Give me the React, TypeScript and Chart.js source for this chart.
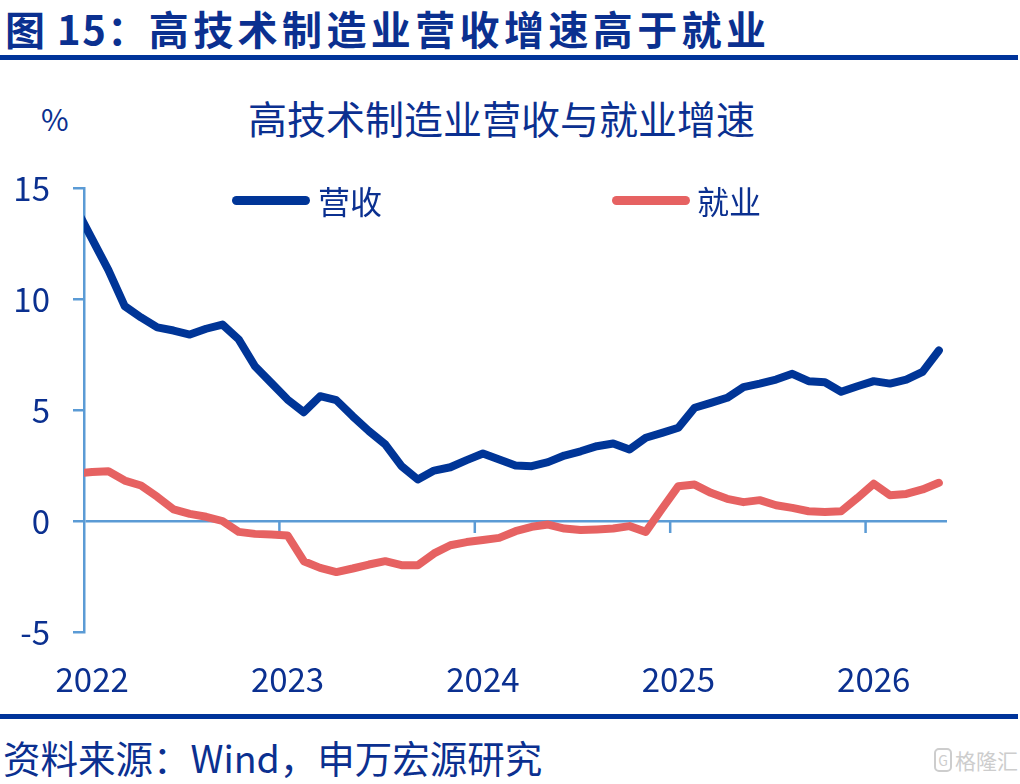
import React, { useEffect, useRef } from "react";
import { Chart, registerables } from "chart.js";

Chart.register(...registerables);

// Monthly observations (plotted mid-month)
const months = [
  "2021-12",
  "2022-01", "2022-02", "2022-03", "2022-04", "2022-05", "2022-06", "2022-07", "2022-08", "2022-09", "2022-10", "2022-11", "2022-12",
  "2023-01", "2023-02", "2023-03", "2023-04", "2023-05", "2023-06", "2023-07", "2023-08", "2023-09", "2023-10", "2023-11", "2023-12",
  "2024-01", "2024-02", "2024-03", "2024-04", "2024-05", "2024-06", "2024-07", "2024-08", "2024-09", "2024-10", "2024-11", "2024-12",
  "2025-01", "2025-02", "2025-03", "2025-04", "2025-05", "2025-06", "2025-07", "2025-08", "2025-09", "2025-10", "2025-11", "2025-12",
  "2026-01", "2026-02", "2026-03", "2026-04", "2026-05",
];

// 营收 (%)
const revenue = [
  14.1,
  12.7, 11.3, 9.68, 9.17, 8.72, 8.58, 8.4, 8.66, 8.85, 8.18, 6.97, 6.22,
  5.47, 4.9, 5.62, 5.44, 4.72, 4.05, 3.45, 2.47, 1.87, 2.27, 2.42, 2.74,
  3.04, 2.77, 2.5, 2.47, 2.65, 2.95, 3.14, 3.37, 3.49, 3.22, 3.75, 3.97,
  4.2, 5.1, 5.32, 5.55, 6.03, 6.19, 6.37, 6.63, 6.3, 6.25, 5.82, 6.07,
  6.3, 6.19, 6.37, 6.72, 7.68,
];

// 就业 (%)
const employment = [
  2.13,
  2.21, 2.24, 1.82, 1.6, 1.09, 0.52, 0.32, 0.19, 0.0, -0.49, -0.58, -0.61,
  -0.65, -1.81, -2.11, -2.3, -2.14, -1.96, -1.81, -1.99, -1.99, -1.46, -1.09, -0.95,
  -0.86, -0.76, -0.46, -0.26, -0.16, -0.34, -0.41, -0.38, -0.34, -0.23, -0.49, 0.55,
  1.57, 1.64, 1.27, 1.0, 0.85, 0.94, 0.71, 0.59, 0.44, 0.41, 0.44, 1.04,
  1.68, 1.16, 1.22, 1.42, 1.72,
];

const yearLabels = ["2022", "2023", "2024", "2025", "2026"];
const seriesNames = ["营收", "就业"];
const yMin = -5;
const yMax = 15;
const yStep = 5;

const FONT = "'Noto Sans CJK SC', 'Noto Sans', sans-serif";
const NAVY = "#0b3090";
const RULE = "#00349a";
const BLUE = "#003597";
const RED = "#e66262";
const AXIS = "#5b9bd5";

const firstYear = parseInt(yearLabels[0], 10);
const monthPos = (m: string) => {
  const [yy, mm] = m.split("-").map((s) => parseInt(s, 10));
  return (yy - firstYear) * 12 + (mm - 1) + 0.5;
};

const yearTickPlugin = {
  id: "yearTicks",
  beforeDatasetsDraw(chart: any) {
    const { ctx, scales } = chart;
    const xs = scales.x;
    const ys = scales.y;
    const y0 = ys.getPixelForValue(0);
    ctx.save();
    ctx.strokeStyle = AXIS;
    ctx.lineWidth = 2.5;
    yearLabels.forEach((_, i) => {
      if (i === 0) return;
      const px = xs.getPixelForValue(i * 12);
      ctx.beginPath();
      ctx.moveTo(px, y0);
      ctx.lineTo(px, y0 + 12);
      ctx.stroke();
    });
    ctx.restore();
  },
};

export default function App() {
  const ref = useRef<HTMLCanvasElement>(null);

  useEffect(() => {
    if (!ref.current) return;
    const mk = (vals: number[]) => months.map((m, i) => ({ x: monthPos(m), y: vals[i] }));
    const chart = new Chart(ref.current, {
      type: "line",
      data: {
        datasets: [
          {
            label: seriesNames[0],
            data: mk(revenue),
            borderColor: BLUE,
            backgroundColor: BLUE,
            borderWidth: 8,
            pointRadius: 0,
            tension: 0,
            borderCapStyle: "round",
            borderJoinStyle: "round",
            clip: { left: 0, top: 20, right: 20, bottom: 20 } as any,
          },
          {
            label: seriesNames[1],
            data: mk(employment),
            borderColor: RED,
            backgroundColor: RED,
            borderWidth: 8,
            pointRadius: 0,
            tension: 0,
            borderCapStyle: "round",
            borderJoinStyle: "round",
            clip: { left: 0, top: 20, right: 20, bottom: 20 } as any,
          },
        ],
      },
      options: {
        responsive: false,
        animation: false,
        devicePixelRatio: 1,
        layout: { padding: { top: 48, right: 73, left: 0, bottom: 0 } },
        plugins: {
          legend: { display: false },
          title: { display: false },
          tooltip: { enabled: false },
        },
        scales: {
          x: {
            type: "linear",
            min: 0,
            max: 53,
            border: { display: false },
            grid: { display: false, drawTicks: false },
            afterFit: (s: any) => {
              s.height = 78;
            },
            afterBuildTicks: (s: any) => {
              s.ticks = yearLabels.map((_, i) => ({ value: i * 12 + 0.5 }));
            },
            ticks: {
              autoSkip: false,
              maxRotation: 0,
              padding: 28,
              color: NAVY,
              font: { family: FONT, size: 33 },
              callback: (_v: any, i: number) => yearLabels[i],
            },
          },
          y: {
            min: yMin,
            max: yMax,
            afterFit: (s: any) => {
              s.width = 84;
            },
            border: { display: true, color: AXIS, width: 2.5 },
            grid: {
              display: true,
              drawTicks: true,
              tickLength: 11,
              lineWidth: 2.5,
              color: (c: any) => (c.tick && c.tick.value === 0 ? AXIS : "rgba(0,0,0,0)"),
              tickColor: AXIS,
            },
            ticks: {
              stepSize: yStep,
              padding: 23,
              color: NAVY,
              font: { family: FONT, size: 33 },
            },
          },
        },
      },
      plugins: [yearTickPlugin],
    } as any);
    return () => chart.destroy();
  }, []);

  return (
    <div
      style={{
        position: "absolute",
        left: 0,
        top: 0,
        width: 1020,
        height: 784,
        background: "#fff",
        overflow: "hidden",
        fontFamily: FONT,
        color: NAVY,
      }}
    >
      <div
        style={{
          position: "absolute",
          left: 5,
          top: 8,
          fontSize: 40,
          fontWeight: 700,
          lineHeight: 1,
          whiteSpace: "nowrap",
          color: NAVY,
        }}
      >
        <span style={{ letterSpacing: 1.5 }}>图 15：</span>
        <span style={{ letterSpacing: 4.4 }}>高技术制造业营收增速高于就业</span>
      </div>
      <div style={{ position: "absolute", left: 0, top: 55, width: 1018, height: 5, background: RULE }} />

      <div style={{ position: "absolute", left: 41, top: 103, fontSize: 30, lineHeight: 1 }}>%</div>
      <div
        style={{
          position: "absolute",
          left: 248,
          top: 98,
          fontSize: 39,
          lineHeight: 1,
          whiteSpace: "nowrap",
        }}
      >
        高技术制造业营收与就业增速
      </div>

      <canvas
        ref={ref}
        width={1020}
        height={570}
        style={{ position: "absolute", left: 0, top: 140, width: 1020, height: 570 }}
      />

      {/* legend */}
      <div style={{ position: "absolute", left: 232, top: 196, width: 78, height: 9, borderRadius: 5, background: BLUE }} />
      <div style={{ position: "absolute", left: 318, top: 184, fontSize: 32, lineHeight: 1, whiteSpace: "nowrap" }}>
        {seriesNames[0]}
      </div>
      <div style={{ position: "absolute", left: 612, top: 196, width: 78, height: 9, borderRadius: 5, background: RED }} />
      <div style={{ position: "absolute", left: 697, top: 184, fontSize: 32, lineHeight: 1, whiteSpace: "nowrap" }}>
        {seriesNames[1]}
      </div>

      <div style={{ position: "absolute", left: 0, top: 714, width: 1018, height: 5, background: RULE }} />
      <div
        style={{
          position: "absolute",
          left: 3,
          top: 738,
          fontSize: 37.5,
          lineHeight: 1,
          whiteSpace: "nowrap",
        }}
      >
        资料来源：Wind，申万宏源研究
      </div>
      <div
        style={{
          position: "absolute",
          left: 934,
          top: 748,
          display: "flex",
          alignItems: "center",
          gap: 3,
          color: "#cdcdcd",
          fontSize: 21,
          lineHeight: 1,
          whiteSpace: "nowrap",
        }}
      >
        <span
          style={{
            display: "inline-block",
            width: 18,
            height: 24,
            border: "2px solid #cdcdcd",
            borderRadius: 5,
            fontSize: 14,
            textAlign: "center",
            lineHeight: "20px",
            boxSizing: "border-box",
          }}
        >
          G
        </span>
        <span>格隆汇</span>
      </div>
    </div>
  );
}
